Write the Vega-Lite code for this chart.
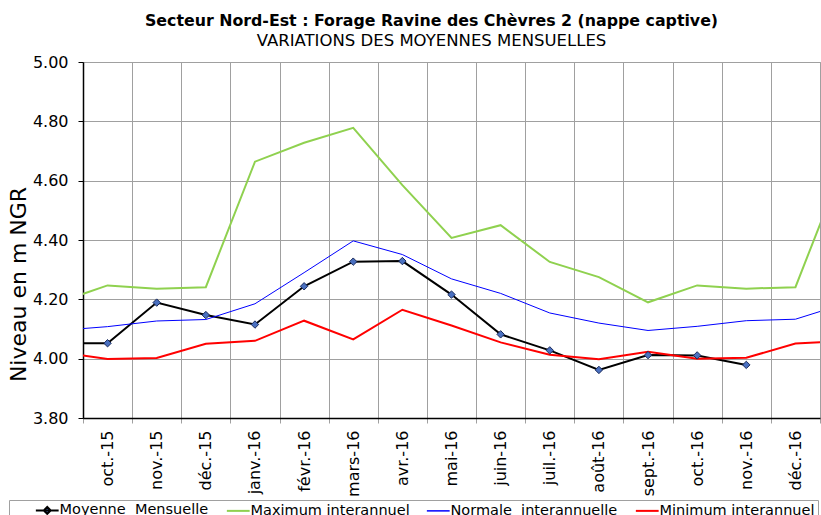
{
  "$schema": "https://vega.github.io/schema/vega-lite/v6.json",
  "width": 737,
  "height": 356,
  "autosize": "none",
  "padding": {"left": 83, "top": 62, "right": 1, "bottom": 97},
  "background": "white",
  "config": {"font": "DejaVu Sans", "view": {"stroke": "#a0a0a0", "strokeWidth": 1}},
  "title": {
    "text": "Secteur Nord-Est : Forage Ravine des Chèvres 2 (nappe captive)",
    "subtitle": "VARIATIONS DES MOYENNES MENSUELLES",
    "font": "DejaVu Sans",
    "fontSize": 15.8,
    "fontWeight": "bold",
    "color": "#000000",
    "subtitleFont": "DejaVu Sans",
    "subtitleFontSize": 16.5,
    "subtitleColor": "#000000",
    "anchor": "middle",
    "frame": "group",
    "dx": -20,
    "offset": 4,
    "subtitlePadding": 3
  },
  "data": {
    "values": [
      {"date": "2015-09-01", "moyenne": 4.052, "maximum": 4.190, "normale": 4.095, "minimum": 4.023},
      {"date": "2015-10-01", "moyenne": 4.052, "maximum": 4.247, "normale": 4.108, "minimum": 3.999},
      {"date": "2015-11-01", "moyenne": 4.189, "maximum": 4.236, "normale": 4.127, "minimum": 4.002},
      {"date": "2015-12-01", "moyenne": 4.147, "maximum": 4.241, "normale": 4.132, "minimum": 4.050},
      {"date": "2016-01-01", "moyenne": 4.115, "maximum": 4.664, "normale": 4.185, "minimum": 4.060},
      {"date": "2016-02-01", "moyenne": 4.244, "maximum": 4.728, "normale": 4.290, "minimum": 4.128},
      {"date": "2016-03-01", "moyenne": 4.327, "maximum": 4.778, "normale": 4.397, "minimum": 4.065},
      {"date": "2016-04-01", "moyenne": 4.329, "maximum": 4.585, "normale": 4.351, "minimum": 4.165},
      {"date": "2016-05-01", "moyenne": 4.216, "maximum": 4.407, "normale": 4.269, "minimum": 4.112},
      {"date": "2016-06-01", "moyenne": 4.082, "maximum": 4.450, "normale": 4.220, "minimum": 4.055},
      {"date": "2016-07-01", "moyenne": 4.028, "maximum": 4.326, "normale": 4.154, "minimum": 4.013},
      {"date": "2016-08-01", "moyenne": 3.962, "maximum": 4.275, "normale": 4.120, "minimum": 3.998},
      {"date": "2016-09-01", "moyenne": 4.012, "maximum": 4.190, "normale": 4.095, "minimum": 4.023},
      {"date": "2016-10-01", "moyenne": 4.011, "maximum": 4.247, "normale": 4.109, "minimum": 4.000},
      {"date": "2016-11-01", "moyenne": 3.979, "maximum": 4.236, "normale": 4.128, "minimum": 4.003},
      {"date": "2016-12-01", "maximum": 4.241, "normale": 4.133, "minimum": 4.051},
      {"date": "2017-01-01", "maximum": 4.664, "normale": 4.185, "minimum": 4.060}
    ],
    "format": {"parse": {"date": "date"}}
  },
  "transform": [
    {"calculate": "(utcyear(datum.date) - 2015) * 12 + utcmonth(datum.date) - 8", "as": "rang"},
    {"fold": ["moyenne", "maximum", "normale", "minimum"], "as": ["serie", "valeur"]},
    {"filter": "isValid(datum.valeur)"}
  ],
  "encoding": {
    "y": {
      "field": "valeur",
      "type": "quantitative",
      "scale": {"domain": [3.8, 5.0], "nice": false, "zero": false},
      "axis": {
        "values": [3.8, 4.0, 4.2, 4.4, 4.6, 4.8, 5.0],
        "format": ".2f",
        "grid": true,
        "gridColor": "#a0a0a0",
        "gridWidth": 1,
        "domainColor": "#000000",
        "domainWidth": 1.5,
        "tickColor": "#000000",
        "tickSize": 5,
        "labelFontSize": 16,
        "labelColor": "#000000",
        "labelPadding": 10,
        "title": "Niveau en m NGR",
        "titleFontSize": 22,
        "titleFontWeight": "normal",
        "titleColor": "#000000",
        "titleAngle": 270,
        "titleX": -58,
        "titleY": 222,
        "titleAlign": "center",
        "titleBaseline": "alphabetic"
      }
    }
  },
  "layer": [
    {
      "mark": {"type": "line", "clip": true},
      "encoding": {
        "x": {
          "field": "rang",
          "type": "quantitative",
          "scale": {"domain": [0.5, 15.5], "nice": false, "zero": false},
          "axis": {
            "orient": "bottom",
            "values": [0.5, 1.5, 2.5, 3.5, 4.5, 5.5, 6.5, 7.5, 8.5, 9.5, 10.5, 11.5, 12.5, 13.5, 14.5, 15.5],
            "labels": false,
            "grid": true,
            "gridColor": "#a0a0a0",
            "gridWidth": 1,
            "ticks": true,
            "tickColor": "#a0a0a0",
            "tickSize": 5,
            "domainColor": "#000000",
            "domainWidth": 1.5,
            "title": null
          }
        },
        "color": {
          "field": "serie",
          "type": "nominal",
          "scale": {
            "domain": ["moyenne", "maximum", "normale", "minimum"],
            "range": ["#000000", "#8fd14f", "#0000ff", "#ff0000"]
          },
          "legend": {
            "orient": "none",
            "legendX": -74,
            "legendY": 438,
            "direction": "horizontal",
            "title": " ",
            "titleOrient": "left",
            "titlePadding": 28,
            "titleFontSize": 14,
            "padding": 3,
            "strokeColor": "#a0a0a0",
            "fillColor": "white",
            "labelFont": "DejaVu Sans",
            "labelFontSize": 14.5,
            "labelColor": "#000000",
            "labelLimit": 0,
            "labelOffset": 5,
            "columnPadding": 13,
            "symbolType": "stroke",
            "symbolSize": 361,
            "symbolStrokeWidth": 2,
            "labelExpr": "datum.value === 'moyenne' ? 'Moyenne\u00a0 Mensuelle' : datum.value === 'maximum' ? 'Maximum interannuel' : datum.value === 'normale' ? 'Normale\u00a0 interannuelle' : 'Minimum interannuel'",
            "encode": {
              "symbols": {
                "update": {
                  "shape": {"signal": "datum.value === 'moyenne' ? 'M-1.2,0H1.2M0,-0.36L0.36,0L0,0.36L-0.36,0Z' : 'M-1.2,0H1.2'"},
                  "fill": {"signal": "datum.value === 'moyenne' ? '#4a70c0' : 'transparent'"},
                  "strokeWidth": {"signal": "datum.value === 'normale' ? 1.5 : 2"}
                }
              }
            }
          }
        },
        "strokeWidth": {
          "condition": {"test": "datum.serie === 'normale'", "value": 1},
          "value": 2
        }
      }
    },
    {
      "transform": [{"filter": "datum.serie === 'moyenne'"}],
      "mark": {"type": "point", "shape": "diamond", "filled": true, "fill": "#4a70c0", "stroke": "#1a2a5a", "strokeWidth": 1, "size": 55, "opacity": 1, "clip": true},
      "encoding": {
        "x": {
          "field": "rang",
          "type": "quantitative",
          "axis": {
            "orient": "bottom",
            "values": [1, 2, 3, 4, 5, 6, 7, 8, 9, 10, 11, 12, 13, 14, 15],
            "labelExpr": "['sept.-15','oct.-15','nov.-15','déc.-15','janv.-16','févr.-16','mars-16','avr.-16','mai-16','juin-16','juil.-16','août-16','sept.-16','oct.-16','nov.-16','déc.-16'][datum.value]",
            "labelAngle": 270,
            "labelAlign": "right",
            "labelBaseline": "middle",
            "labelPadding": 12,
            "labelFontSize": 16,
            "labelColor": "#000000",
            "labelOverlap": false,
            "labelFlush": false,
            "labelBound": false,
            "ticks": false,
            "domain": false,
            "grid": false,
            "title": null
          }
        }
      }
    }
  ],
  "resolve": {"axis": {"x": "independent"}}
}
